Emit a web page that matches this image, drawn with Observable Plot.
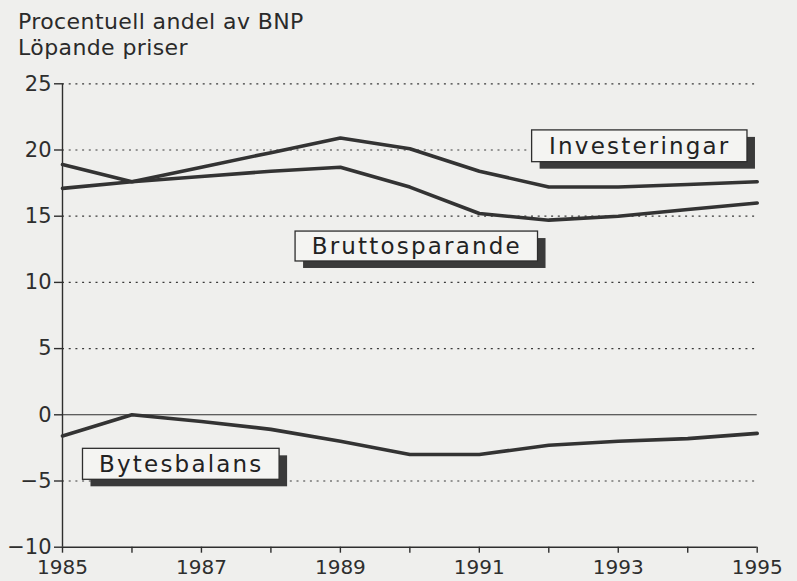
<!DOCTYPE html>
<html>
<head>
<meta charset="utf-8">
<script src="https://cdn.jsdelivr.net/npm/d3@7"></script>
<script src="https://cdn.jsdelivr.net/npm/@observablehq/plot@0.6"></script>
<style>
  html, body { margin: 0; padding: 0; background: #efefed; }
  #wrap { width: 797px; height: 581px; overflow: hidden; background: #efefed; }
  #title { font-family: "DejaVu Sans", sans-serif; font-size: 22px; line-height: 26px;
           letter-spacing: 0.4px; color: #2a2a2a; padding: 9px 0 0 18px; height: 53px; }
  g[aria-label="text"] text { letter-spacing: 2.2px; }
</style>
</head>
<body>
<div id="wrap">
  <div id="title">Procentuell andel av BNP<br>Löpande priser</div>
  <div id="chart"></div>
</div>
<script>
const years = [1985, 1986, 1987, 1988, 1989, 1990, 1991, 1992, 1993, 1994, 1995];
const investeringar  = [18.9, 17.6, 18.7, 19.8, 20.9, 20.1, 18.4, 17.2, 17.2, 17.4, 17.6];
const bruttosparande = [17.1, 17.6, 18.0, 18.4, 18.7, 17.2, 15.2, 14.7, 15.0, 15.5, 16.0];
const bytesbalans    = [-1.6, 0.0, -0.5, -1.1, -2.0, -3.0, -3.0, -2.3, -2.0, -1.8, -1.4];

const yTicks = [-10, -5, 0, 5, 10, 15, 20, 25];
const gridValues = [25, 20, 15, 10, 5, -5];

// Label annotations (anchor in data units)
const labelNames  = ["Investeringar", "Bruttosparande", "Bytesbalans"];
const labelYear   = [1993.31, 1990.10, 1986.71];
const labelValue  = [20.28, 12.71, -3.74];
const labelHalfW  = [1.55, 1.745, 1.415];
const labelHalfH  = [1.2, 1.13, 1.17];

const series = [
  ...years.map((y, i) => ({name: "Investeringar", year: y, value: investeringar[i]})),
  ...years.map((y, i) => ({name: "Bruttosparande", year: y, value: bruttosparande[i]})),
  ...years.map((y, i) => ({name: "Bytesbalans", year: y, value: bytesbalans[i]}))
];
const labels = labelNames.map((n, i) => ({
  name: n, x: labelYear[i], y: labelValue[i],
  x1: labelYear[i] - labelHalfW[i], x2: labelYear[i] + labelHalfW[i],
  y1: labelValue[i] - labelHalfH[i], y2: labelValue[i] + labelHalfH[i]
}));

const ink = "#2e2e2e";
const bg = "#efefed";

const chart = Plot.plot({
  width: 797,
  height: 519,
  marginLeft: 62,
  marginRight: 40.3,
  marginTop: 21.3,
  marginBottom: 34.3,
  style: {background: bg, color: ink, fontFamily: "DejaVu Sans, sans-serif", overflow: "visible"},
  x: {domain: [1985, 1995]},
  y: {domain: [-10, 25]},
  marks: [
    Plot.ruleY(gridValues, {x1: 1985, x2: 1995, stroke: "#3a3a3a", strokeWidth: 1.2, strokeDasharray: "2,4.7"}),
    Plot.ruleY([0], {x1: 1985, x2: 1995, stroke: ink, strokeWidth: 1.1}),
    Plot.ruleX([1985], {y1: -10, y2: 25, stroke: ink, strokeWidth: 1.4}),
    Plot.ruleY([-10], {x1: 1985, x2: 1995, stroke: ink, strokeWidth: 1.4}),
    Plot.axisY({ticks: yTicks, tickSize: 8, tickPadding: 3, fontSize: 21, stroke: ink, strokeWidth: 1.4, label: null}),
    Plot.axisX({ticks: years, tickSize: 6, tickPadding: 7, fontSize: 20, stroke: ink, strokeWidth: 1.4, label: null,
                tickFormat: d => (d % 2 === 1 ? String(d) : "")}),
    Plot.line(series, {x: "year", y: "value", z: "name", stroke: "#333", strokeWidth: 3.6, strokeLinejoin: "round", curve: "linear"}),
    Plot.rect(labels, {x1: "x1", x2: "x2", y1: "y1", y2: "y2", fill: "#3a3a3a", dx: 8, dy: 7}),
    Plot.rect(labels, {x1: "x1", x2: "x2", y1: "y1", y2: "y2", fill: "#f4f4f2", stroke: ink, strokeWidth: 1.3}),
    Plot.text(labels, {x: "x", y: "y", text: "name", fontSize: 23, fill: "#222", textAnchor: "middle"})
  ]
});
document.getElementById("chart").appendChild(chart);
</script>
</body>
</html>
